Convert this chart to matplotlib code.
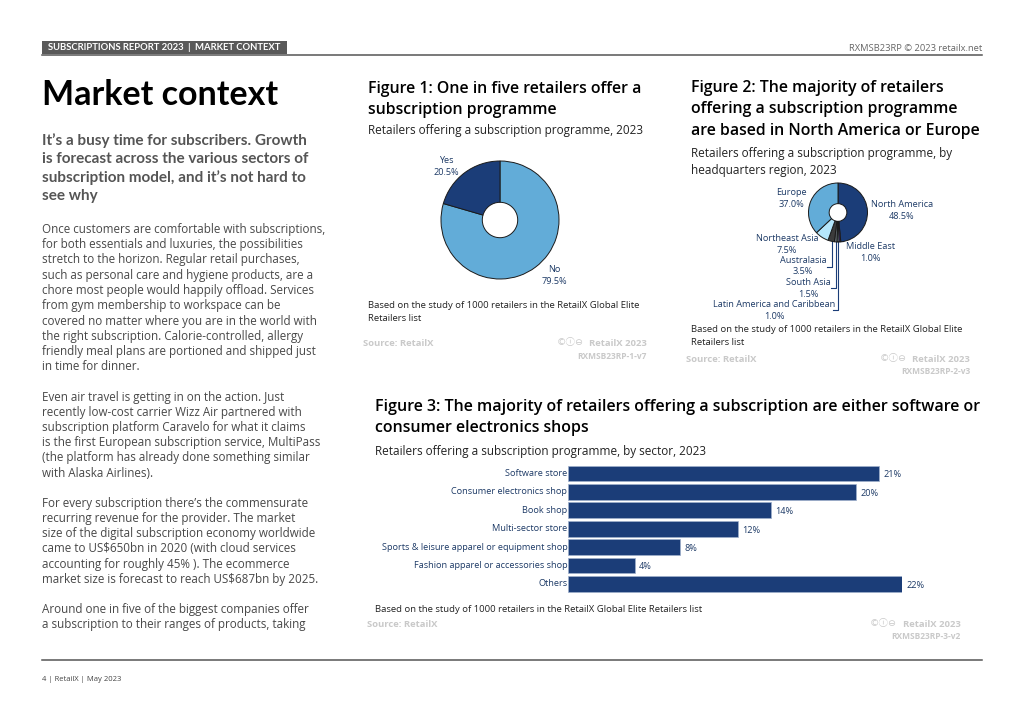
import matplotlib
matplotlib.use("Agg")
import matplotlib.pyplot as plt
from matplotlib.patches import Rectangle
from matplotlib.transforms import ScaledTranslation

W, H = 1024, 724
NAVY = "#1b3d78"
TXT = "#1d3a66"
BLUE = "#62acd8"
GREY = "#c9c9c9"
BODY = "#484848"
plt.rcParams['font.family'] = ['Open Sans', 'DejaVu Sans']

pie1_labels = ["No", "Yes"]
pie1_values = [79.5, 20.5]
pie1_colors = [BLUE, NAVY]

pie2_labels = ["North America", "Middle East", "Latin America and Caribbean", "South Asia",
               "Australasia", "Northeast Asia", "Europe"]
pie2_values = [48.5, 1.0, 1.0, 1.5, 3.5, 7.5, 37.0]
pie2_colors = [NAVY, "#4a2f7a", "#8fb3c4", "#5c6468", "#3b3b3b", "#b5e6fb", BLUE]

bar_labels = ["Software store", "Consumer electronics shop", "Book shop", "Multi-sector store",
              "Sports & leisure apparel or equipment shop", "Fashion apparel or accessories shop", "Others"]
bar_values = [20.5, 19.0, 13.4, 11.2, 7.4, 4.4, 22.0]
bar_texts = ["21%", "20%", "14%", "12%", "8%", "4%", "22%"]

intro_lines = ["It\u2019s a busy time for subscribers. Growth",
               "is forecast across the various sectors of",
               "subscription model, and it\u2019s not hard to",
               "see why"]
body_lines = [
    (228, "Once customers are comfortable with subscriptions,"),
    (243.5, "for both essentials and luxuries, the possibilities"),
    (258.5, "stretch to the horizon. Regular retail purchases,"),
    (274, "such as personal care and hygiene products, are a"),
    (289, "chore most people would happily offload. Services"),
    (304.5, "from gym membership to workspace can be"),
    (320, "covered no matter where you are in the world with"),
    (335, "the right subscription. Calorie-controlled, allergy"),
    (350, "friendly meal plans are portioned and shipped just"),
    (365.5, "in time for dinner."),
    (396, "Even air travel is getting in on the action. Just"),
    (411, "recently low-cost carrier Wizz Air partnered with"),
    (426, "subscription platform Caravelo for what it claims"),
    (441.5, "is the first European subscription service, MultiPass"),
    (456.5, "(the platform has already done something similar"),
    (472, "with Alaska Airlines)."),
    (502, "For every subscription there\u2019s the commensurate"),
    (517, "recurring revenue for the provider. The market"),
    (532.5, "size of the digital subscription economy worldwide"),
    (547.5, "came to US$650bn in 2020 (with cloud services"),
    (563, "accounting for roughly 45% ). The ecommerce"),
    (578, "market size is forecast to reach US$687bn by 2025."),
    (608, "Around one in five of the biggest companies offer"),
    (623, "a subscription to their ranges of products, taking"),
]

fig = plt.figure(figsize=(W / 100, H / 100), dpi=100, facecolor="white")


def px_axes(l, t, r, b, **kw):
    return fig.add_axes([l / W, 1 - b / H, (r - l) / W, (b - t) / H], **kw)


ov = px_axes(0, 0, W, H)
ov.set_xlim(0, W)
ov.set_ylim(H, 0)
ov.axis("off")


def T(x, y, s, px=10.5, c="#222222", ha="left", w="normal", fam=None, **kw):
    if fam is not None:
        kw["family"] = fam
    return ov.text(x, y + 0.1 * px, s, fontsize=px * 0.72, color=c, ha=ha, va="center", fontweight=w, **kw)


# header / footer
ov.add_patch(Rectangle((42, 41), 245, 13, fc="#595959", ec="none"))
ov.plot([42, 982], [54.5, 54.5], color="#555555", lw=1.1)
T(48, 47, "SUBSCRIPTIONS REPORT 2023  |  MARKET CONTEXT", 9.45, "white", w="bold", fam="Lato")
T(982, 47.5, "RXMSB23RP \u00a9 2023 retailx.net", 9.4, "#666666", ha="right")
ov.plot([42, 982], [659.5, 659.5], color="#555555", lw=1.1)
T(42, 679, "4 | RetailX | May 2023", 7.7, "#444444")

# left column
T(42, 92, "Market context", 34, "black", w="bold", fam="Lato")
for i, s in enumerate(intro_lines):
    T(42, 139.5 + i * 18.4, s, 15.3, "#555555", w="bold", fam="Lato")
for y, s in body_lines:
    T(42, y, s, 11.67, BODY)


def heading(x, y0, lines, step=21.5, px=15.92):
    for i, s in enumerate(lines):
        T(x, y0 + i * step, s, px, "black", w="semibold")


def footer(src_x, src_y, cc_x, brand_r, brand_y, code_y, code):
    T(src_x, src_y, "Source: RetailX", 9.5, GREY, w="bold")
    T(cc_x, brand_y - 1.5, "\u00a9\u24d8\u2296", 9.5, GREY, fam=["DejaVu Sans", "Noto Sans CJK JP"])
    T(brand_r, brand_y, "RetailX 2023", 9.5, GREY, ha="right", w="bold")
    T(brand_r, code_y, code, 8.4, GREY, ha="right", w="bold")


# Figure 1
heading(368, 87, ["Figure 1: One in five retailers offer a", "subscription programme"])
T(368, 129.5, "Retailers offering a subscription programme, 2023", 11.7, "#222222")
a1 = px_axes(500 - 59, 220 - 59, 500 + 59, 220 + 59)
a1.pie(pie1_values, colors=pie1_colors, startangle=90, counterclock=False, radius=1,
       wedgeprops=dict(width=0.70, edgecolor="#1a1a1a", linewidth=0.7))
a1.set_xlim(-1, 1); a1.set_ylim(-1, 1)
T(446, 159.5, pie1_labels[1], 9.1, TXT, ha="center")
T(446, 171.5, "20.5%", 9.1, TXT, ha="center")
T(554, 268.5, pie1_labels[0], 9.1, TXT, ha="center")
T(554, 280.5, "79.5%", 9.1, TXT, ha="center")
T(368, 305, "Based on the study of 1000 retailers in the RetailX Global Elite", 9.45, "#222222")
T(368, 317.5, "Retailers list", 9.45, "#222222")
footer(363, 343, 557, 647, 343, 356, "RXMSB23RP-1-v7")

# Figure 2
heading(691, 86, ["Figure 2: The majority of retailers", "offering a subscription programme", "are based in North America or Europe"])
T(691, 152, "Retailers offering a subscription programme, by", 11.7, "#222222")
T(691, 169, "headquarters region, 2023", 11.7, "#222222")
a2 = px_axes(838 - 29.5, 212.5 - 29.5, 838 + 29.5, 212.5 + 29.5)
a2.pie(pie2_values, colors=pie2_colors, startangle=90, counterclock=False, radius=1,
       wedgeprops=dict(width=0.70, edgecolor="#1a1a1a", linewidth=0.7))
a2.set_xlim(-1, 1); a2.set_ylim(-1, 1)
labels2 = [
    (791, 192, "Europe", 204, "37.0%"),
    (902, 204, "North America", 216, "48.5%"),
    (787, 238, "Northeast Asia", 250, "7.5%"),
    (870, 246, "Middle East", 258, "1.0%"),
    (803, 260, "Australasia", 271, "3.5%"),
    (808, 282, "South Asia", 294, "1.5%"),
    (774, 304, "Latin America and Caribbean", 316, "1.0%"),
]
for x, y1, s1, y2, s2 in labels2:
    T(x, y1 - 0.5, s1, 9.1, TXT, ha="center")
    T(x, y2 - 0.5, s2, 9.1, TXT, ha="center")
for xs, ys in [([831.5, 831.5, 827], [240, 266.5, 266.5]),
               ([836, 836, 831], [241, 287.5, 287.5]),
               ([837.5, 837.5, 833], [241, 310, 310]),
               ([840, 843], [241, 241])]:
    ov.plot(xs, ys, color=NAVY, lw=0.8)
T(691, 329, "Based on the study of 1000 retailers in the RetailX Global Elite", 9.45, "#222222")
T(691, 341.5, "Retailers list", 9.45, "#222222")
footer(686, 359, 880, 970, 359, 371, "RXMSB23RP-2-v3")

# Figure 3
heading(375, 405, ["Figure 3: The majority of retailers offering a subscription are either software or",
                   "consumer electronics shops"], step=21.5, px=15.98)
T(375, 450, "Retailers offering a subscription programme, by sector, 2023", 11.7, "#222222")
a3 = px_axes(568, 464.3, 902, 593)
pos = list(range(len(bar_values)))
a3.barh(pos, bar_values, height=0.86, color=NAVY, edgecolor="#9fb0cc", linewidth=0.5)
a3.set_xlim(0, 22)
a3.set_ylim(6.5, -0.5)
a3.set_yticks(pos, bar_labels, fontsize=9.1 * 0.72, color=TXT)
a3.set_xticks([])
a3.tick_params(axis="y", length=0, pad=0.5)
shift = ScaledTranslation(0, 1.0 / 100, fig.dpi_scale_trans)
for lab in a3.get_yticklabels():
    lab.set_transform(lab.get_transform() + shift)
for sp in a3.spines.values():
    sp.set_visible(False)
for p, v, s in zip(pos, bar_values, bar_texts):
    a3.annotate(s, (v, p), xytext=(3, -1), textcoords="offset points", fontsize=9.1 * 0.72,
                color=TXT, va="center", annotation_clip=False)
T(375, 609, "Based on the study of 1000 retailers in the RetailX Global Elite Retailers list", 9.45, "#222222")
footer(367, 624, 870, 961, 624, 636, "RXMSB23RP-3-v2")

fig.savefig("out.png", dpi=100)
